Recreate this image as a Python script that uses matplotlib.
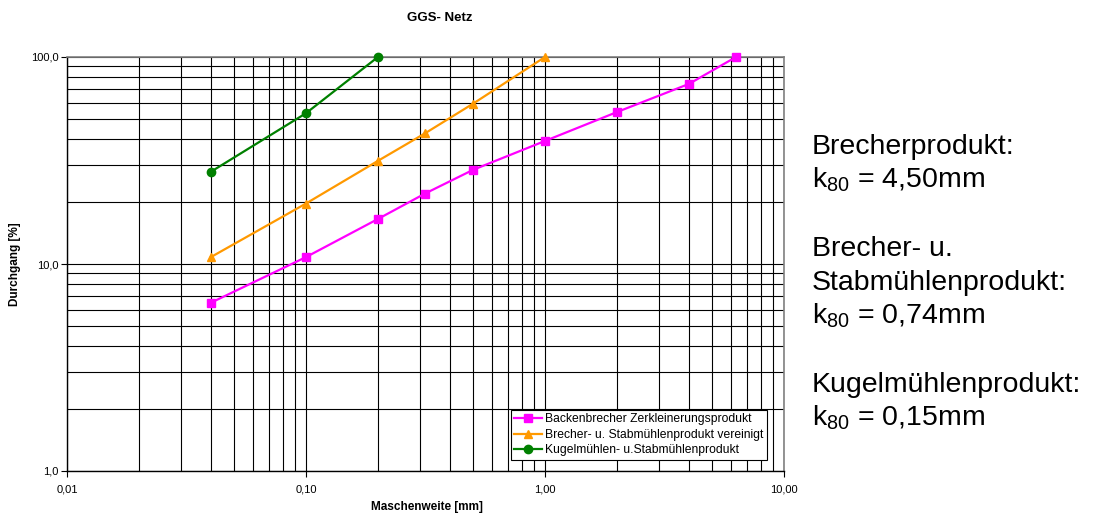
import matplotlib
matplotlib.use("Agg")
import matplotlib.pyplot as plt
from matplotlib.ticker import FixedLocator, LogLocator, NullFormatter, FixedFormatter

plt.rcParams['font.family'] = ['Liberation Sans', 'DejaVu Sans']
plt.rcParams['mathtext.default'] = 'regular'

# Sieve analysis data: mesh size [mm] vs. passing [%]
mesh_backen = [0.04, 0.1, 0.2, 0.315, 0.5, 1.0, 2.0, 4.0, 6.3]
pass_backen = [6.5, 10.8, 16.5, 21.9, 28.5, 39.3, 54.2, 74.1, 100.0]

mesh_brecher_stab = [0.04, 0.1, 0.2, 0.315, 0.5, 1.0]
pass_brecher_stab = [10.8, 19.6, 31.5, 42.8, 59.5, 100.0]

mesh_kugel = [0.04, 0.1, 0.2]
pass_kugel = [27.9, 53.5, 100.0]

series_labels = [
    "Backenbrecher Zerkleinerungsprodukt",
    "Brecher- u. Stabmühlenprodukt vereinigt",
    "Kugelmühlen- u.Stabmühlenprodukt",
]

x_ticks = [0.01, 0.1, 1.0, 10.0]
x_tick_labels = ["0,01", "0,10", "1,00", "10,00"]
y_ticks = [1.0, 10.0, 100.0]
y_tick_labels = ["1,0", "10,0", "100,0"]

W, H = 1099, 515
fig = plt.figure(figsize=(W / 100, H / 100), dpi=100)
ax = fig.add_axes([67 / W, 1 - 471 / H, (784 - 67) / W, (471 - 57) / H])

ax.set_xscale('log')
ax.set_yscale('log')
ax.set_xlim(0.01, 10)
ax.set_ylim(1, 100)

# Grid: major and minor decades in thin black lines
ax.xaxis.set_major_locator(FixedLocator(x_ticks))
ax.xaxis.set_major_formatter(FixedFormatter(x_tick_labels))
ax.yaxis.set_major_locator(FixedLocator(y_ticks))
ax.yaxis.set_major_formatter(FixedFormatter(y_tick_labels))
ax.xaxis.set_minor_locator(LogLocator(base=10, subs=range(2, 10)))
ax.yaxis.set_minor_locator(LogLocator(base=10, subs=range(2, 10)))
ax.xaxis.set_minor_formatter(NullFormatter())
ax.yaxis.set_minor_formatter(NullFormatter())
ax.grid(True, which='both', color='#000000', linewidth=0.8)
ax.set_axisbelow(True)

ax.tick_params(which='minor', length=0)
ax.tick_params(which='major', length=4, width=0.8, direction='out',
               labelsize=8, colors='#000000')
ax.tick_params(axis='x', which='major', pad=6)
ax.tick_params(axis='y', which='major', pad=2)

for side in ('top', 'right'):
    ax.spines[side].set_color('#808080')
    ax.spines[side].set_linewidth(1.2)
for side in ('left', 'bottom'):
    ax.spines[side].set_color('#000000')
    ax.spines[side].set_linewidth(1.0)

ax.plot(mesh_backen, pass_backen, color='#FF00FF', marker='s', markersize=6,
        linewidth=1.6, label=series_labels[0], clip_on=False, zorder=3)
ax.plot(mesh_brecher_stab, pass_brecher_stab, color='#FF9900', marker='^', markersize=6,
        linewidth=1.6, label=series_labels[1], clip_on=False, zorder=3)
ax.plot(mesh_kugel, pass_kugel, color='#008000', marker='o', markersize=6,
        linewidth=1.6, label=series_labels[2], clip_on=False, zorder=3)

leg = ax.legend(loc='lower right',
                bbox_to_anchor=((767 - 67) / (784 - 67), (471 - 460) / (471 - 57)),
                fontsize=8.7, frameon=True, fancybox=False, framealpha=1,
                edgecolor='#000000', handlelength=2.3, handletextpad=0.25,
                borderpad=0.3, labelspacing=0.3, borderaxespad=0)
leg.get_frame().set_linewidth(0.8)

fig.text(440 / W, 1 - 18 / H, "GGS- Netz", ha='center', va='center',
         fontsize=9.5, fontweight='bold')
fig.text(427 / W, 1 - 507 / H, "Maschenweite [mm]", ha='center', va='center',
         fontsize=8.5, fontweight='bold')
fig.text(15 / W, 1 - 264 / H, "Durchgang [%]", ha='center', va='center',
         rotation=90, fontsize=8.5, fontweight='bold')

# k80 summary next to the chart (baselines in pixels from the top)
side_lines = [
    "Brecherprodukt:",
    "k$_{80}$ = 4,50mm",
    "",
    "Brecher- u.",
    "Stabmühlenprodukt:",
    "k$_{80}$ = 0,74mm",
    "",
    "Kugelmühlenprodukt:",
    "k$_{80}$ = 0,15mm",
]
base0 = 153.5
step = 34.0
for i, line in enumerate(side_lines):
    if line:
        fig.text(812 / W, 1 - (base0 + i * step) / H, line, ha='left', va='baseline',
                 fontsize=20.5)

fig.savefig("out.png", dpi=100)
